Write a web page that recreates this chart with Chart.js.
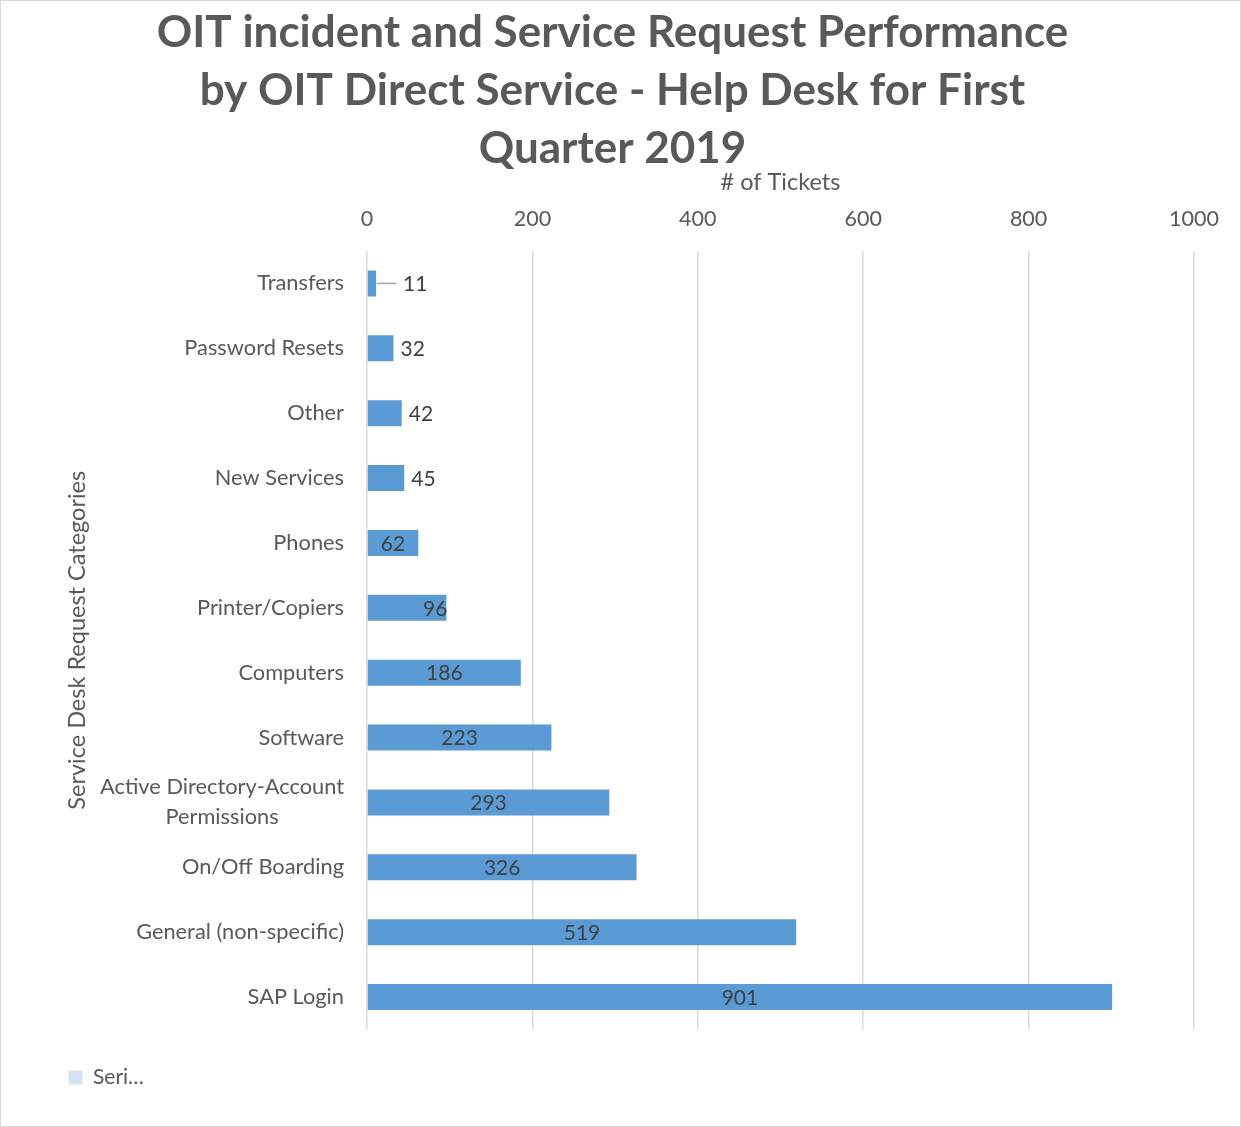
<!DOCTYPE html>
<html>
<head>
<meta charset="utf-8">
<title>OIT Help Desk Q1 2019</title>
<script src="https://cdn.jsdelivr.net/npm/chart.js@4.4.1/dist/chart.umd.min.js"></script>
<style>
  html, body { margin: 0; padding: 0; background: #fff; }
  #wrap { width: 1241px; height: 1127px; box-sizing: border-box; border: 1px solid #d9d9d9; }
  canvas { display: block; }
</style>
</head>
<body>
<div id="wrap"><canvas id="myChart" width="1239" height="1125"></canvas></div>
<script>
const categories = [
  'Transfers',
  'Password Resets',
  'Other',
  'New Services',
  'Phones',
  'Printer/Copiers',
  'Computers',
  'Software',
  ['Active Directory-Account', 'Permissions'],
  'On/Off Boarding',
  'General (non-specific)',
  'SAP Login',
];
const tickets = [11, 32, 42, 45, 62, 96, 186, 223, 293, 326, 519, 901];
const xTicks = [0, 200, 400, 600, 800, 1000];

const FONT = 'Lato';
const grey = '#595959';

// how excel placed a couple of the data labels
const labelSpot = { 'Transfers': 'callout', 'Printer/Copiers': 'end' };

const barLabels = {
  id: 'barLabels',
  afterDatasetsDraw(chart) {
    const ctx = chart.ctx;
    const meta = chart.getDatasetMeta(0);
    ctx.save();
    ctx.font = `21px ${FONT}`;
    ctx.fillStyle = '#404040';
    ctx.textBaseline = 'middle';
    meta.data.forEach((bar, i) => {
      const v = tickets[i];
      const name = Array.isArray(categories[i]) ? categories[i].join(' ') : categories[i];
      const spot = labelSpot[name] || (v < 50 ? 'outside' : 'center');
      const y = bar.y + 1;
      if (spot === 'callout') {
        ctx.strokeStyle = '#a6a6a6';
        ctx.lineWidth = 1.5;
        ctx.beginPath();
        ctx.moveTo(bar.x + 1, bar.y);
        ctx.lineTo(bar.x + 20, bar.y);
        ctx.stroke();
        ctx.textAlign = 'left';
        ctx.fillText(v, bar.x + 27, y);
      } else if (spot === 'outside') {
        ctx.textAlign = 'left';
        ctx.fillText(v, bar.x + 7, y);
      } else if (spot === 'end') {
        ctx.textAlign = 'right';
        ctx.fillText(v, bar.x + 1, y);
      } else {
        ctx.textAlign = 'center';
        ctx.fillText(v, (bar.x + bar.base) / 2, y);
      }
    });
    ctx.restore();
  }
};

// category labels: right aligned block, wrapped lines centred in it
const catLabels = {
  id: 'catLabels',
  afterDraw(chart) {
    const ctx = chart.ctx;
    const yScale = chart.scales.y;
    const right = chart.chartArea.left - 23;
    ctx.save();
    ctx.font = `21.8px ${FONT}`;
    ctx.fillStyle = grey;
    ctx.textBaseline = 'middle';
    ctx.textAlign = 'center';
    categories.forEach((c, i) => {
      const lines = Array.isArray(c) ? c : [c];
      const w = Math.max(...lines.map(l => ctx.measureText(l).width));
      const cy = yScale.getPixelForValue(i);
      const lh = 30;
      lines.forEach((l, k) => {
        ctx.fillText(l, right - w / 2, cy + (k - (lines.length - 1) / 2) * lh);
      });
    });
    ctx.restore();
  }
};

const data = {
  labels: categories,
  datasets: [{
    label: 'Series1',
    data: tickets,
    backgroundColor: '#5b9bd5',
    borderWidth: 0,
    barPercentage: 0.8,
    categoryPercentage: 0.5,
  }]
};

const config = {
  type: 'bar',
  data: data,
  options: {
    indexAxis: 'y',
    responsive: false,
    animation: false,
    layout: { padding: { left: 30, right: 46, top: 0, bottom: 28 } },
    scales: {
      x: {
        position: 'top',
        min: 0,
        max: 1000,
        afterBuildTicks: s => { s.ticks = xTicks.map(v => ({ value: v })); },
        afterFit: s => { s.height = 87; },
        grid: { color: '#d9d9d9', lineWidth: 1.5, drawTicks: false },
        border: { display: false },
        ticks: { color: grey, font: { family: FONT, size: 21.5 }, padding: 19, callback: v => String(v) },
        title: { display: true, text: '# of Tickets', color: grey, font: { family: FONT, size: 23.5 }, padding: { top: 4, bottom: 0 } }
      },
      y: {
        afterFit: s => { s.width = 366 - 30; },
        grid: { display: false },
        border: { display: false },
        ticks: { display: false },
        title: { display: true, text: 'Service Desk Request Categories', color: grey, font: { family: FONT, size: 23.5 }, padding: { top: 32, bottom: 0 } }
      }
    },
    plugins: {
      title: {
        display: true,
        text: ['OIT incident and Service Request Performance', 'by OIT Direct Service - Help Desk for First', 'Quarter 2019'],
        color: grey,
        font: { family: FONT, size: 44, weight: 'bold', lineHeight: 1.318 },
        padding: { top: 3, bottom: -14 }
      },
      legend: {
        position: 'bottom',
        align: 'start',
        labels: {
          padding: 37.5,
          boxWidth: 14,
          boxHeight: 14,
          font: { family: FONT, size: 21 },
          color: grey,
          generateLabels: () => [{ text: 'Seri…', fillStyle: '#d6e1f2', strokeStyle: '#d6e1f2', lineWidth: 0, fontColor: grey }]
        }
      },
      tooltip: { enabled: false }
    }
  },
  plugins: [barLabels, catLabels]
};

const myChart = new Chart(document.getElementById('myChart'), config);
</script>
</body>
</html>
